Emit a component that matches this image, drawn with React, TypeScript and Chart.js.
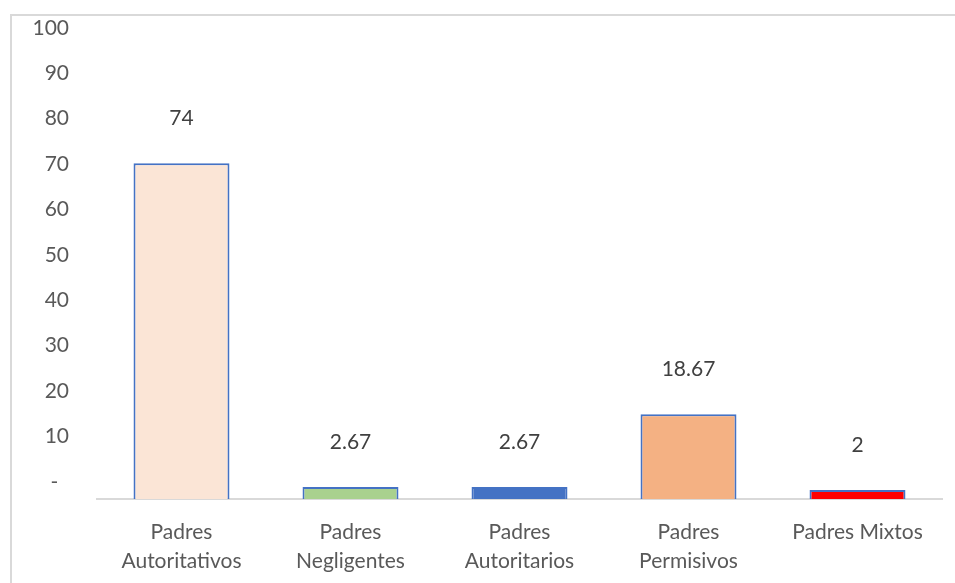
import React, { useEffect, useRef } from 'react';
import { Chart, registerables } from 'chart.js';

Chart.register(...registerables);

const categories: (string | string[])[] = [
  ['Padres', 'Autoritativos'],
  ['Padres', 'Negligentes'],
  ['Padres', 'Autoritarios'],
  ['Padres', 'Permisivos'],
  'Padres Mixtos',
];
const values = [74, 2.67, 2.67, 18.67, 2];
const barColors = ['#FBE5D6', '#A9D18E', '#4472C4', '#F4B183', '#FF0000'];
const barBorder = '#4472C4';
const yTickValues = [0, 10, 20, 30, 40, 50, 60, 70, 80, 90, 100];

const FONT = 'Lato';
const FONT_SIZE = 21;
const LABEL_SHIFT = 3.8; // tick labels in the original sit slightly above their values

const dataLabelPlugin = {
  id: 'dataLabels',
  afterDatasetsDraw(chart: any) {
    const ctx = chart.ctx;
    const meta = chart.getDatasetMeta(0);
    ctx.save();
    ctx.font = `${FONT_SIZE}px ${FONT}`;
    ctx.fillStyle = '#404040';
    ctx.textAlign = 'center';
    ctx.textBaseline = 'middle';
    meta.data.forEach((bar: any, i: number) => {
      ctx.fillText(String(values[i]), bar.x, bar.y - 45);
    });
    ctx.restore();
  },
};

export default function App() {
  const ref = useRef<HTMLCanvasElement | null>(null);

  useEffect(() => {
    if (!ref.current) return;
    Chart.defaults.font.family = FONT;
    Chart.defaults.font.size = FONT_SIZE;
    const chart = new Chart(ref.current, {
      type: 'bar',
      data: {
        labels: categories,
        datasets: [
          {
            data: values,
            backgroundColor: barColors,
            borderColor: barBorder,
            borderWidth: 2,
            barPercentage: 0.568,
            categoryPercentage: 1,
            yAxisID: 'y',
          },
        ],
      },
      options: {
        animation: false,
        responsive: false,
        maintainAspectRatio: false,
        events: [],
        layout: { padding: { left: 0, right: 13, top: 27, bottom: 0 } },
        plugins: {
          legend: { display: false },
          tooltip: { enabled: false },
          title: { display: false },
        },
        scales: {
          x: {
            grid: { display: false, drawTicks: false },
            border: { display: true, color: '#D9D9D9', width: 2 },
            ticks: {
              color: '#595959',
              font: { size: FONT_SIZE, family: FONT, lineHeight: 1.38 },
              padding: 19,
              maxRotation: 0,
              autoSkip: false,
            },
            afterFit: (s: any) => {
              s.height = 84;
            },
          },
          y: {
            display: false,
            min: 0,
            max: 104,
          },
          yl: {
            position: 'left',
            min: -LABEL_SHIFT,
            max: 104 - LABEL_SHIFT,
            grid: { display: false, drawTicks: false },
            border: { display: false },
            ticks: {
              color: '#595959',
              font: { size: FONT_SIZE, family: FONT },
              padding: 28,
              callback: (v: any) => (v === 0 ? '-  ' : String(v)),
            },
            afterBuildTicks: (s: any) => {
              s.ticks = yTickValues.map((v) => ({ value: v }));
            },
            afterFit: (s: any) => {
              s.width = 97;
              s.paddingTop = 0;
              s.paddingBottom = 0;
            },
          },
        },
      } as any,
      plugins: [dataLabelPlugin],
    });
    return () => chart.destroy();
  }, []);

  return (
    <div
      style={{
        position: 'fixed',
        left: 0,
        top: 0,
        width: 955,
        height: 583,
        overflow: 'hidden',
        background: '#ffffff',
      }}
    >
      <div
        style={{
          position: 'absolute',
          left: 10,
          top: 14,
          width: 1000,
          height: 700,
          borderLeft: '2px solid #D9D9D9',
          borderTop: '2px solid #D9D9D9',
          boxSizing: 'border-box',
        }}
      />
      <canvas
        ref={ref}
        width={955}
        height={583}
        style={{ position: 'absolute', left: 0, top: 0, width: 955, height: 583 }}
      />
    </div>
  );
}
